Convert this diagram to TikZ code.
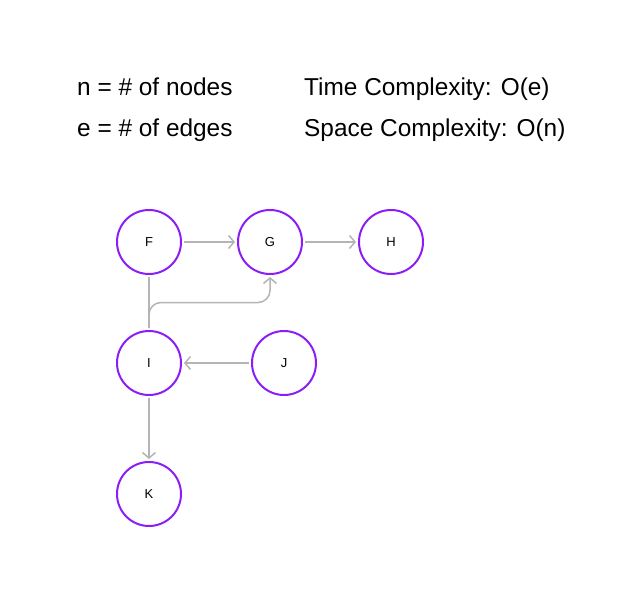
\documentclass[tikz,border=0pt]{standalone}
\usepackage{fontspec}
\setmainfont{Liberation Sans}
\usepackage{tikz}
\usetikzlibrary{calc,positioning,arrows.meta}
\usepackage{xcolor}
\definecolor{nodeviolet}{HTML}{8B1EF6}
\definecolor{edgegray}{HTML}{B4B4B4}

\begin{document}
\begin{tikzpicture}[x=1pt,y=-1pt,
  vertex/.style={circle,draw=nodeviolet,line width=2pt,minimum size=64pt,inner sep=0pt,outer sep=3pt,font=\fontsize{13}{15}\selectfont},
  edge/.style={draw=edgegray,line width=1.5pt,-{Straight Barb[length=5.5pt,width=13pt]}},
  plain/.style={draw=edgegray,line width=1.5pt},
  info/.style={anchor=base west,inner sep=0pt,font=\fontsize{24.4}{28}\selectfont}]
\useasboundingbox (0,0) rectangle (640,604);
% legend
\node[info] (nn) at (77,96) {n = \# of nodes};
\node[info] (ee) at (77,137) {e = \# of edges};
\node[info] (tc) at (304,96) {Time Complexity: O(e)};
\node[info] (sc) at (304,137) {Space Complexity: O(n)};
% nodes
\node[vertex] (F) at (149,242) {F};
\node[vertex] (G) at (270,242) {G};
\node[vertex] (H) at (391,242) {H};
\node[vertex] (I) at (149,363) {I};
\node[vertex] (J) at (284,363) {J};
\node[vertex] (K) at (149,494) {K};
% edges
\draw[edge] (F) -- (G);
\draw[edge] (G) -- (H);
\draw[edge] (J) -- (I);
\draw[edge] (I) -- (K);
\draw[plain] (F) -- (I);
\coordinate (fork) at ($(F)!0.5!(I)$);
\draw[edge,rounded corners=12pt] (I.north) |- (fork -| G) -- (G.south);
\end{tikzpicture}
\end{document}
